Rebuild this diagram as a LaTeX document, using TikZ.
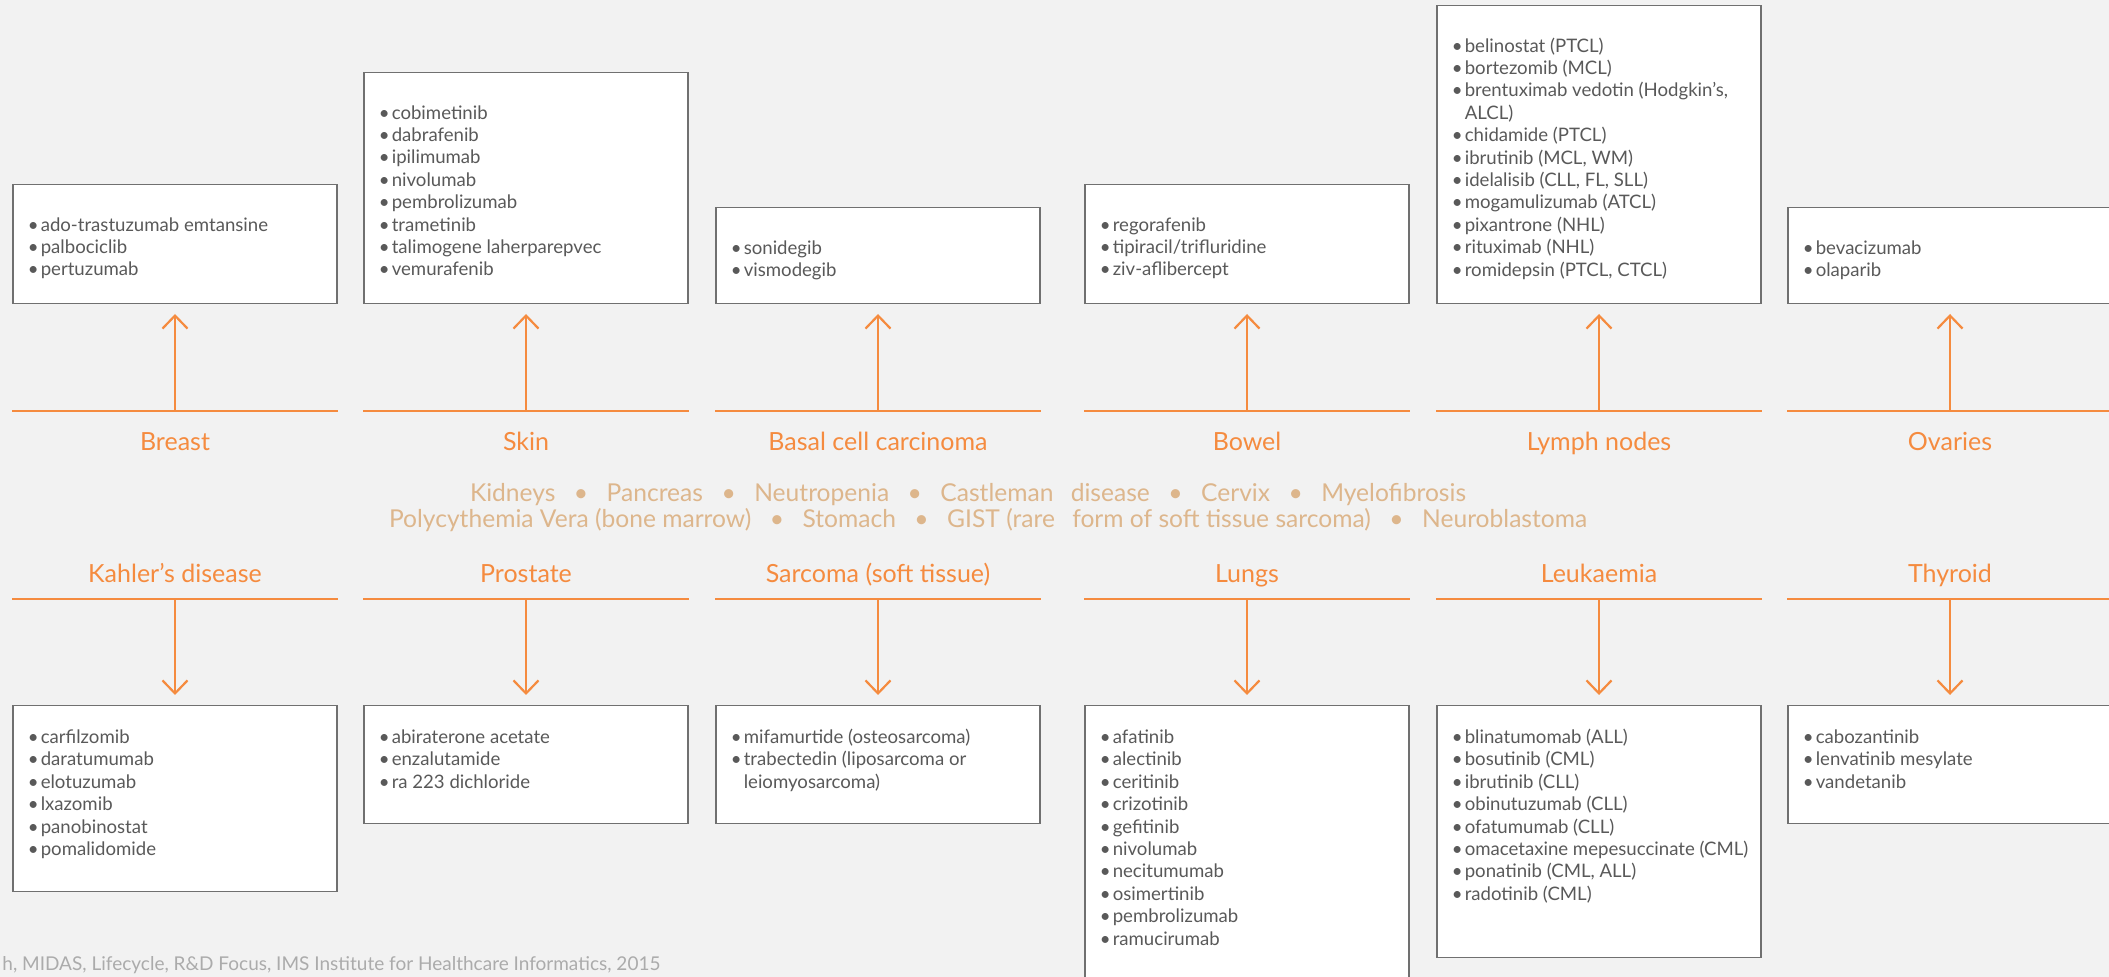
\documentclass[tikz,border=0pt]{standalone}
\usepackage{fontspec}
\setmainfont{Lato}
\usepackage{xcolor}
\usetikzlibrary{arrows.meta}

\definecolor{fon}{HTML}{F2F2F2}
\definecolor{orng}{HTML}{F58B3F}
\definecolor{tan}{HTML}{DDB68C}
\definecolor{txt}{HTML}{595959}
\definecolor{ramka}{HTML}{707070}
\definecolor{foot}{HTML}{ABABAB}

\newcommand{\itm}{\makebox[6.5pt][l]{\textbullet}}
\newcommand{\itmx}{\makebox[6.5pt][l]{}}
\newcommand{\sep}{\hspace{0.75em}\textbullet\hspace{0.75em}}

\tikzset{
  box/.style={draw=ramka, fill=white, line width=0.6pt, minimum width=162pt, inner sep=0pt},
  list/.style={anchor=north west, align=left, inner sep=0pt, text=txt, font=\fontsize{9.3}{11.2}\selectfont},
  organ/.style={anchor=base, text=orng, font=\fontsize{12.5}{14}\selectfont},
  orgline/.style={draw=orng, line width=1.1pt},
  arr/.style={orgline, -{Straight Barb[length=6.5pt,width=12.5pt]}, shorten >=5pt},
}

\begin{document}
\begin{tikzpicture}[x=0.5pt, y=-0.5pt]
% фон
\useasboundingbox (0,0) rectangle (2109,977);
\clip (0,0) rectangle (2109,977);
\fill[fon] (0,0) rectangle (2109,977);

% верхний ряд: рамки
\node[box, minimum height=59.5pt, anchor=south] (bBreast) at (175,304) {};
\node[box, minimum height=115.5pt, anchor=south] (bSkin) at (526,304) {};
\node[box, minimum height=48pt, anchor=south] (bBasal) at (878,304) {};
\node[box, minimum height=59.5pt, anchor=south] (bBowel) at (1247,304) {};
\node[box, minimum height=149pt, anchor=south] (bLymph) at (1599,304) {};
\node[box, minimum height=48pt, anchor=south] (bOvaries) at (1950,304) {};

% верхний ряд: списки
\node[list] (tBreast) at ([shift={(15,30)}]bBreast.north west) {\rule{0pt}{8.5pt}\itm ado-trastuzumab emtansine\\ \itm palbociclib\\ \itm pertuzumab};
\node[list] (tSkin) at ([shift={(15,30)}]bSkin.north west) {\rule{0pt}{8.5pt}\itm cobimetinib\\ \itm dabrafenib\\ \itm ipilimumab\\ \itm nivolumab\\ \itm pembrolizumab\\ \itm trametinib\\ \itm talimogene laherparepvec\\ \itm vemurafenib};
\node[list] (tBasal) at ([shift={(15,30)}]bBasal.north west) {\rule{0pt}{8.5pt}\itm sonidegib\\ \itm vismodegib};
\node[list] (tBowel) at ([shift={(15,30)}]bBowel.north west) {\rule{0pt}{8.5pt}\itm regorafenib\\ \itm tipiracil/trifluridine\\ \itm ziv-aflibercept};
\node[list] (tLymph) at ([shift={(15,30)}]bLymph.north west) {\rule{0pt}{8.5pt}\itm belinostat (PTCL)\\ \itm bortezomib (MCL)\\ \itm brentuximab vedotin (Hodgkin’s,\\ \itmx ALCL)\\ \itm chidamide (PTCL)\\ \itm ibrutinib (MCL, WM)\\ \itm idelalisib (CLL, FL, SLL)\\ \itm mogamulizumab (ATCL)\\ \itm pixantrone (NHL)\\ \itm rituximab (NHL)\\ \itm romidepsin (PTCL, CTCL)};
\node[list] (tOvaries) at ([shift={(15,30)}]bOvaries.north west) {\rule{0pt}{8.5pt}\itm bevacizumab\\ \itm olaparib};

% верхний ряд: линии и стрелки
\coordinate (cBreast) at (175,411);
\coordinate (cSkin) at (526,411);
\coordinate (cBasal) at (878,411);
\coordinate (cBowel) at (1247,411);
\coordinate (cLymph) at (1599,411);
\coordinate (cOvaries) at (1950,411);
\draw[orgline] (bBreast.west |- cBreast) -- (bBreast.east |- cBreast);
\draw[orgline] (bSkin.west |- cSkin) -- (bSkin.east |- cSkin);
\draw[orgline] (bBasal.west |- cBasal) -- (bBasal.east |- cBasal);
\draw[orgline] (bBowel.west |- cBowel) -- (bBowel.east |- cBowel);
\draw[orgline] (bLymph.west |- cLymph) -- (bLymph.east |- cLymph);
\draw[orgline] (bOvaries.west |- cOvaries) -- (bOvaries.east |- cOvaries);
\draw[arr] (cBreast) -- (bBreast.south);
\draw[arr] (cSkin) -- (bSkin.south);
\draw[arr] (cBasal) -- (bBasal.south);
\draw[arr] (cBowel) -- (bBowel.south);
\draw[arr] (cLymph) -- (bLymph.south);
\draw[arr] (cOvaries) -- (bOvaries.south);

% верхний ряд: подписи
\node[organ] (nBreast) at (175,451) {Breast};
\node[organ] (nSkin) at (526,451) {Skin};
\node[organ] (nBasal) at (878,451) {Basal cell carcinoma};
\node[organ] (nBowel) at (1247,451) {Bowel};
\node[organ] (nLymph) at (1599,451) {Lymph nodes};
\node[organ] (nOvaries) at (1950,451) {Ovaries};

% середина
\node[anchor=base, text=tan, font=\fontsize{12.3}{14}\selectfont] (mid1) at (968,502) {Kidneys\sep Pancreas\sep Neutropenia\sep Castleman\hspace{0.7em}disease\sep Cervix\sep Myelofibrosis};
\node[anchor=base, text=tan, font=\fontsize{12.3}{14}\selectfont] (mid2) at (988,528) {Polycythemia Vera (bone marrow)\sep Stomach\sep GIST (rare\hspace{0.7em}form of soft tissue sarcoma)\sep Neuroblastoma};

% нижний ряд: подписи
\node[organ] (nKahler) at (175,583) {Kahler’s disease};
\node[organ] (nProstate) at (526,583) {Prostate};
\node[organ] (nSarcoma) at (878,583) {Sarcoma (soft tissue)};
\node[organ] (nLungs) at (1247,583) {Lungs};
\node[organ] (nLeuk) at (1599,583) {Leukaemia};
\node[organ] (nThyroid) at (1950,583) {Thyroid};

% нижний ряд: рамки
\node[box, minimum height=93pt, anchor=north] (bKahler) at (175,705) {};
\node[box, minimum height=59pt, anchor=north] (bProstate) at (526,705) {};
\node[box, minimum height=59pt, anchor=north] (bSarcoma) at (878,705) {};
\node[box, minimum height=150pt, anchor=north] (bLungs) at (1247,705) {};
\node[box, minimum height=126pt, anchor=north] (bLeuk) at (1599,705) {};
\node[box, minimum height=59pt, anchor=north] (bThyroid) at (1950,705) {};

% нижний ряд: линии и стрелки
\coordinate (cKahler) at (175,599);
\coordinate (cProstate) at (526,599);
\coordinate (cSarcoma) at (878,599);
\coordinate (cLungs) at (1247,599);
\coordinate (cLeuk) at (1599,599);
\coordinate (cThyroid) at (1950,599);
\draw[orgline] (bKahler.west |- cKahler) -- (bKahler.east |- cKahler);
\draw[orgline] (bProstate.west |- cProstate) -- (bProstate.east |- cProstate);
\draw[orgline] (bSarcoma.west |- cSarcoma) -- (bSarcoma.east |- cSarcoma);
\draw[orgline] (bLungs.west |- cLungs) -- (bLungs.east |- cLungs);
\draw[orgline] (bLeuk.west |- cLeuk) -- (bLeuk.east |- cLeuk);
\draw[orgline] (bThyroid.west |- cThyroid) -- (bThyroid.east |- cThyroid);
\draw[arr] (cKahler) -- (bKahler.north);
\draw[arr] (cProstate) -- (bProstate.north);
\draw[arr] (cSarcoma) -- (bSarcoma.north);
\draw[arr] (cLungs) -- (bLungs.north);
\draw[arr] (cLeuk) -- (bLeuk.north);
\draw[arr] (cThyroid) -- (bThyroid.north);

% нижний ряд: списки
\node[list] (tKahler) at ([shift={(15,21)}]bKahler.north west) {\rule{0pt}{8.5pt}\itm carfilzomib\\ \itm daratumumab\\ \itm elotuzumab\\ \itm lxazomib\\ \itm panobinostat\\ \itm pomalidomide};
\node[list] (tProstate) at ([shift={(15,21)}]bProstate.north west) {\rule{0pt}{8.5pt}\itm abiraterone acetate\\ \itm enzalutamide\\ \itm ra 223 dichloride};
\node[list] (tSarcoma) at ([shift={(15,21)}]bSarcoma.north west) {\rule{0pt}{8.5pt}\itm mifamurtide (osteosarcoma)\\ \itm trabectedin (liposarcoma or\\ \itmx leiomyosarcoma)};
\node[list] (tLungs) at ([shift={(15,21)}]bLungs.north west) {\rule{0pt}{8.5pt}\itm afatinib\\ \itm alectinib\\ \itm ceritinib\\ \itm crizotinib\\ \itm gefitinib\\ \itm nivolumab\\ \itm necitumumab\\ \itm osimertinib\\ \itm pembrolizumab\\ \itm ramucirumab};
\node[list] (tLeuk) at ([shift={(15,21)}]bLeuk.north west) {\rule{0pt}{8.5pt}\itm blinatumomab (ALL)\\ \itm bosutinib (CML)\\ \itm ibrutinib (CLL)\\ \itm obinutuzumab (CLL)\\ \itm ofatumumab (CLL)\\ \itm omacetaxine mepesuccinate (CML)\\ \itm ponatinib (CML, ALL)\\ \itm radotinib (CML)};
\node[list] (tThyroid) at ([shift={(15,21)}]bThyroid.north west) {\rule{0pt}{8.5pt}\itm cabozantinib\\ \itm lenvatinib mesylate\\ \itm vandetanib};

% источник
\node[anchor=base west, inner sep=0pt, text=foot, font=\fontsize{9.5}{11}\selectfont] (src) at (2,970) {h, MIDAS, Lifecycle, R\&D Focus, IMS Institute for Healthcare Informatics, 2015};
\end{tikzpicture}
\end{document}
